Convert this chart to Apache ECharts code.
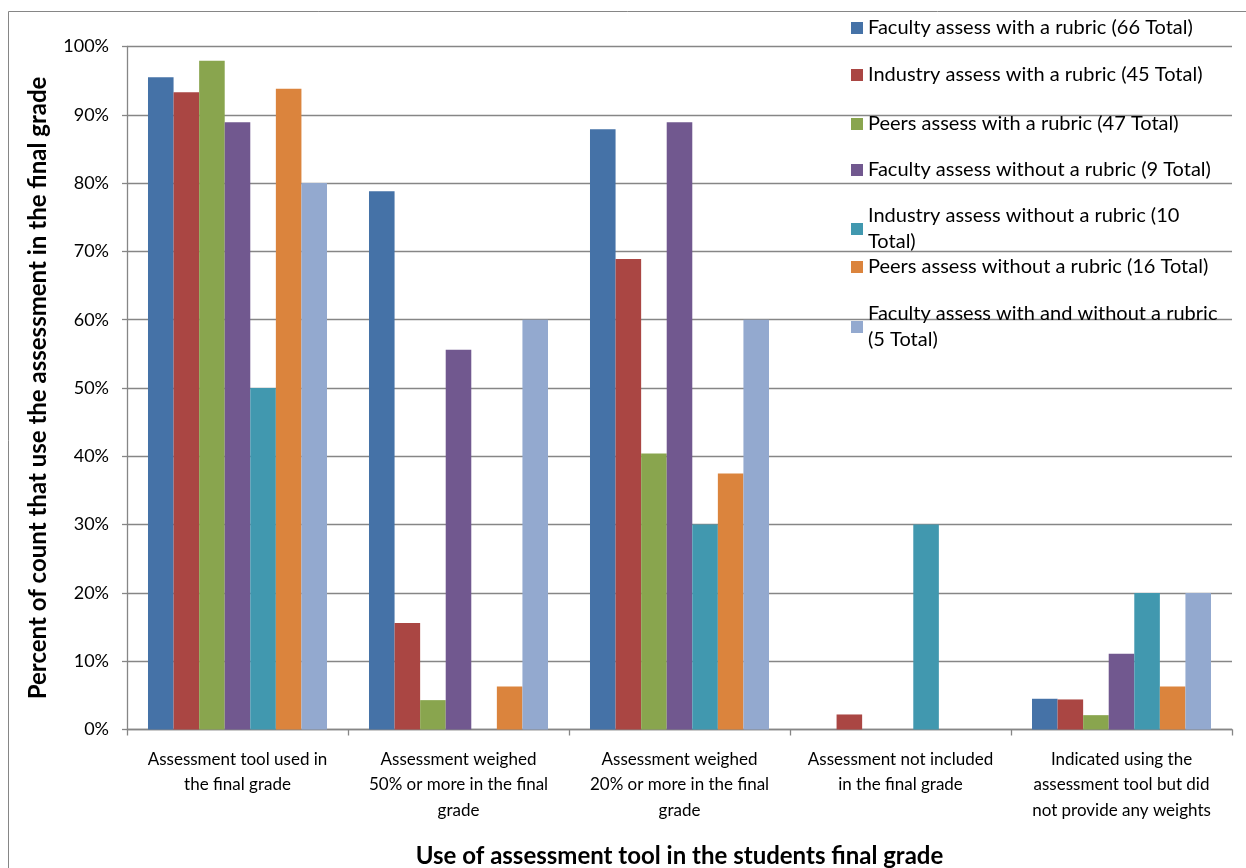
<!DOCTYPE html>
<html>
<head>
<meta charset="utf-8">
<script src="https://cdn.jsdelivr.net/npm/echarts@6/dist/echarts.min.js"></script>
<style>
html,body{margin:0;padding:0;background:#fff;}
#chart{width:1246px;height:868px;}
</style>
</head>
<body>
<div id="chart"></div>
<script>
const categories = [
  "Assessment tool used in\nthe final grade",
  "Assessment weighed\n50% or more in the final\ngrade",
  "Assessment weighed\n20% or more in the final\ngrade",
  "Assessment not included\nin the final grade",
  "Indicated using the\nassessment tool but did\nnot provide any weights"
];
const seriesNames = [
  "Faculty assess with a rubric (66 Total)",
  "Industry assess with a rubric (45 Total)",
  "Peers assess with a rubric (47 Total)",
  "Faculty assess without a rubric (9 Total)",
  "Industry assess without a rubric (10 Total)",
  "Peers assess without a rubric (16 Total)",
  "Faculty assess with and without a rubric (5 Total)"
];
const facultyRubric      = [95.5, 78.8, 87.9, 0,   4.5];
const industryRubric     = [93.3, 15.6, 68.9, 2.2, 4.4];
const peersRubric        = [97.9, 4.3,  40.4, 0,   2.1];
const facultyNoRubric    = [88.9, 55.6, 88.9, 0,   11.1];
const industryNoRubric   = [50,   0,    30,   30,  20];
const peersNoRubric      = [93.8, 6.3,  37.5, 0,   6.3];
const facultyBoth        = [80,   60,   60,   0,   20];
const yTicks = [0, 10, 20, 30, 40, 50, 60, 70, 80, 90, 100];

const seriesData = [facultyRubric, industryRubric, peersRubric, facultyNoRubric, industryNoRubric, peersNoRubric, facultyBoth];
const colors = ['#4572A7', '#AA4643', '#89A54E', '#71588F', '#4198AF', '#DB843D', '#93A9CF'];

const FONT = 'Lato';
const gridColor = '#868686';

const legendCenters = [27, 74, 123, 169, 215, 266, 313];
const legends = seriesNames.map((name, i) => {
  const wrapped = (i === 4 || i === 6);
  const ts = {
    fontFamily: FONT,
    fontSize: 20,
    color: '#000',
    lineHeight: 26,
    width: 356,
    overflow: 'break'
  };
  if (wrapped) ts.height = 26;
  return {
    orient: 'vertical',
    left: 846,
    top: legendCenters[i] - (wrapped ? 14 : 17),
    itemWidth: 12,
    itemHeight: 12,
    icon: 'rect',
    data: [name],
    selectedMode: false,
    textStyle: ts
  };
});

const chart = echarts.init(document.getElementById('chart'), null, {renderer: 'canvas'});
chart.setOption({
  animation: false,
  backgroundColor: '#fff',
  color: colors,
  graphic: [{
    type: 'rect',
    shape: {x: 8.5, y: 11.5, width: 1300, height: 900},
    style: {fill: 'none', stroke: gridColor, lineWidth: 1},
    silent: true,
    z: -1
  }],
  legend: legends,
  grid: {left: 127, right: 14, top: 46.5, bottom: 138.5, containLabel: false, outerBoundsMode: 'none'},
  xAxis: {
    type: 'category',
    data: categories,
    name: 'Use of assessment tool in the students final grade',
    nameLocation: 'middle',
    nameGap: 115,
    nameTextStyle: {fontFamily: FONT, fontSize: 24, fontWeight: 'bold', color: '#000'},
    axisLine: {lineStyle: {color: gridColor, width: 1.3}},
    axisTick: {show: true, length: 6, lineStyle: {color: gridColor, width: 1.3}},
    axisLabel: {fontFamily: FONT, fontSize: 17, color: '#000', lineHeight: 25.5, margin: 17, interval: 0}
  },
  yAxis: {
    type: 'value',
    min: yTicks[0],
    max: yTicks[yTicks.length - 1],
    interval: 10,
    name: 'Percent of count that use the assessment in the final grade',
    nameLocation: 'middle',
    nameGap: 77,
    nameTextStyle: {fontFamily: FONT, fontSize: 24, fontWeight: 'bold', color: '#000'},
    axisLine: {show: true, lineStyle: {color: gridColor, width: 1.3}},
    axisTick: {show: true, length: 5, lineStyle: {color: gridColor, width: 1.3}},
    splitLine: {lineStyle: {color: gridColor, width: 1.3}},
    axisLabel: {fontFamily: FONT, fontSize: 18, color: '#000', margin: 18, formatter: '{value}%'}
  },
  series: seriesNames.map((name, i) => ({
    name: name,
    type: 'bar',
    data: seriesData[i],
    barGap: '0%',
    barCategoryGap: '19%',
    itemStyle: {color: colors[i]}
  }))
});
</script>
</body>
</html>
